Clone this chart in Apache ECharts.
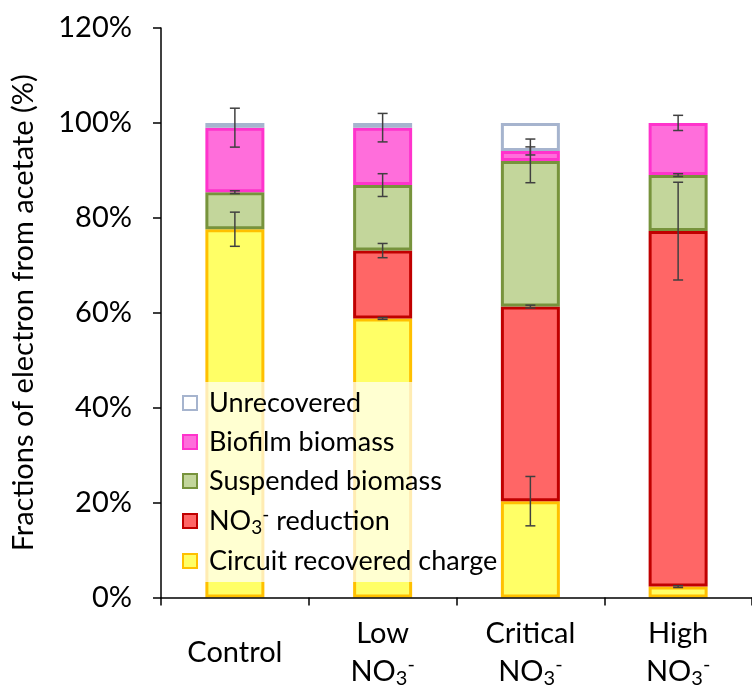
<!DOCTYPE html>
<html>
<head>
<meta charset="utf-8">
<script src="https://cdn.jsdelivr.net/npm/echarts@6/dist/echarts.min.js"></script>
<style>
html,body{margin:0;padding:0;background:#fff;}
#chart{width:752px;height:690px;}
</style>
</head>
<body>
<div id="chart"></div>
<script>
// ---- data (percent of electrons from acetate) ----
const categories = ['Control', 'Low NO3-', 'Critical NO3-', 'High NO3-'];
const circuit     = [77.6, 58.8, 20.3, 2.3];
const no3         = [0,    14.3, 41.0, 74.9];
const suspended   = [7.8,  13.8, 30.7, 11.8];
const biofilm     = [13.6, 12.1, 2.1,  11.0];
const unrecovered = [1.0,  1.0,  5.9,  0];
// error half-widths, drawn at the top of each segment
const circuitErr   = [3.6, 0.2, 5.2, 0.2];
const no3Err       = [0,   1.5, 0.3, 10.3];
const suspendedErr = [0.3, 2.4, 4.6, 0.3];
const biofilmErr   = [4.1, 3.0, 0.85, 1.6];
const yTicks = [0, 20, 40, 60, 80, 100, 120];

const FONT = 'Lato';
const segs = [
  {name: 'Circuit recovered charge', data: circuit, err: circuitErr, fill: '#FFFF66', border: '#FFC000'},
  {name: 'NO3- reduction', data: no3, err: no3Err, fill: '#FF6666', border: '#C00000'},
  {name: 'Suspended biomass', data: suspended, err: suspendedErr, fill: '#C3D69B', border: '#77933C'},
  {name: 'Biofilm biomass', data: biofilm, err: biofilmErr, fill: '#FF6EDB', border: '#FF33CC'},
  {name: 'Unrecovered', data: unrecovered, err: null, fill: '#FFFFFF', border: '#A6B4CE'}
];

const series = segs.map(s => ({
  name: s.name,
  type: 'bar',
  stack: 'total',
  barWidth: 59,
  data: s.data.map(v => v === 0 ? '-' : v),
  itemStyle: {color: s.fill, borderColor: s.border, borderWidth: 3},
  emphasis: {disabled: true}
}));

// error bar points: [catIndex, cumulative top, half-width]
const errPts = [];
categories.forEach((c, i) => {
  let cum = 0;
  segs.forEach(s => {
    cum += s.data[i];
    if (s.err && s.err[i] > 0) errPts.push([i, cum, s.err[i]]);
  });
});

series.push({
  name: 'err',
  type: 'custom',
  z: 5,
  data: errPts,
  renderItem: function (params, api) {
    const x = api.value(0), c = api.value(1), e = api.value(2);
    const top = api.coord([x, c + e]);
    const bot = api.coord([x, c - e]);
    const w = 5;
    const st = {stroke: '#404040', lineWidth: 1.5};
    return {
      type: 'group',
      children: [
        {type: 'line', shape: {x1: top[0], y1: top[1], x2: bot[0], y2: bot[1]}, style: st},
        {type: 'line', shape: {x1: top[0] - w, y1: top[1], x2: top[0] + w, y2: top[1]}, style: st},
        {type: 'line', shape: {x1: bot[0] - w, y1: bot[1], x2: bot[0] + w, y2: bot[1]}, style: st}
      ]
    };
  }
});

const richNO3 = {
  a: {fontFamily: FONT, fontSize: 29, color: '#000', lineHeight: 38},
  sub: {fontFamily: FONT, fontSize: 20, color: '#000', padding: [14, 0, 0, 0]},
  sup: {fontFamily: FONT, fontSize: 20, color: '#000', padding: [0, 0, 14, 0]}
};
const richLegend = {
  a: {fontFamily: FONT, fontSize: 27, color: '#000'},
  f: {fontFamily: FONT, fontSize: 27, color: '#000', padding: [0, 0, 0, 7]},
  sub: {fontFamily: FONT, fontSize: 19, color: '#000', padding: [13, 0, 0, 0]},
  sup: {fontFamily: FONT, fontSize: 19, color: '#000', padding: [0, 0, 13, 0]}
};

const chart = echarts.init(document.getElementById('chart'), null, {renderer: 'canvas'});
chart.setOption({
  animation: false,
  backgroundColor: '#fff',
  grid: {left: 161, top: 28, right: -11, bottom: 92.5, containLabel: false},
  legend: {
    orient: 'vertical',
    left: 174,
    top: 382,
    z: 10,
    data: ['Unrecovered', 'Biofilm biomass', 'Suspended biomass', 'NO3- reduction', 'Circuit recovered charge'],
    icon: 'rect',
    itemWidth: 14,
    itemHeight: 14,
    itemGap: 9,
    itemTextGap: 14,
    itemStyle: {borderWidth: 2},
    padding: [6, 3, 6, 8],
    backgroundColor: 'rgba(255,255,255,0.7)',
    selectedMode: false,
    textStyle: {fontFamily: FONT, fontSize: 27, color: '#000', lineHeight: 30, rich: richLegend},
    formatter: function (n) {
      if (n === 'NO3- reduction') return '{f|NO}{sub|3}{sup|-}{a| reduction}';
      return '{f|' + n + '}';
    }
  },
  xAxis: {
    type: 'category',
    data: categories,
    z: 3,
    axisLine: {lineStyle: {color: '#000', width: 1.5}},
    axisTick: {show: true, length: 8, interval: 0, lineStyle: {color: '#000', width: 1.5}},
    axisLabel: {
      interval: 0,
      margin: 55,
      verticalAlign: 'middle',
      rich: richNO3,
      formatter: function (v) {
        if (v.indexOf('NO3-') >= 0) {
          const w = v.replace(' NO3-', '');
          return '{a|' + w + '}\n{a|NO}{sub|3}{sup|-}';
        }
        return '{a|' + v + '}';
      }
    }
  },
  yAxis: {
    type: 'value',
    min: yTicks[0],
    max: yTicks[yTicks.length - 1],
    interval: 20,
    z: 3,
    name: 'Fractions of electron from acetate (%)',
    nameLocation: 'middle',
    nameRotate: 90,
    nameGap: 123,
    nameTextStyle: {fontFamily: FONT, fontSize: 29, color: '#000'},
    axisLine: {show: true, lineStyle: {color: '#000', width: 1.5}},
    axisTick: {show: true, length: 8, lineStyle: {color: '#000', width: 1.5}},
    splitLine: {show: false},
    axisLabel: {margin: 29, fontFamily: FONT, fontSize: 29, color: '#000', formatter: '{value}%'}
  },
  series: series
});
</script>
</body>
</html>
